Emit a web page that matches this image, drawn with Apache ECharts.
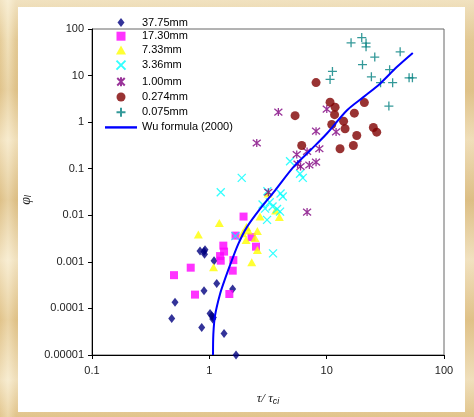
<!DOCTYPE html>
<html>
<head>
<meta charset="utf-8">
<script src="https://cdn.jsdelivr.net/npm/echarts@6/dist/echarts.min.js"></script>
<style>
html,body{margin:0;padding:0;}
body{width:474px;height:417px;position:relative;overflow:hidden;
background:
 linear-gradient(180deg, rgba(255,250,235,0.5) 0px, rgba(255,250,235,0) 40px, rgba(210,170,100,0.25) 90px, rgba(255,248,230,0.45) 140px, rgba(205,165,95,0.3) 200px, rgba(255,250,235,0.5) 260px, rgba(215,175,105,0.3) 320px, rgba(255,250,235,0.45) 380px, rgba(220,180,110,0.25) 417px),
 linear-gradient(90deg, rgba(200,160,90,0.2) 0px, rgba(255,250,235,0.3) 8px, rgba(200,160,90,0.25) 16px),
 #ECD7A8;}
#paper{position:absolute;left:18px;top:7px;width:447px;height:405px;background:#ffffff;}
#chart{position:absolute;left:0;top:0;width:474px;height:417px;}
</style>
</head>
<body>
<div id="paper"></div>
<div id="chart"></div>
<script>
// Data (x = tau/tau_ci, y = phi_l)
const s3775 = [[0.833,0.0017],[0.901,0.00166],[0.919,0.00183],[0.910,0.00146],[1.097,0.00106],[1.156,0.000345],[0.901,0.00024],[1.58,0.000261],[0.51,0.000135],[0.478,0.000061],[1.014,0.000078],[1.048,0.0000697],[1.082,0.000064],[1.069,0.000059],[0.861,0.000039],[1.335,0.000029],[1.689,0.00001]];
const s1730 = [[0.50,0.000518],[0.694,0.00075],[0.755,0.000198],[1.316,0.00223],[1.335,0.00166],[1.234,0.00133],[1.251,0.00106],[1.602,0.00109],[1.583,0.000647],[1.481,0.000204],[1.957,0.00938],[1.673,0.00366],[2.29,0.0034],[2.50,0.00212]];
const s733 = [[0.806,0.00385],[1.217,0.00687],[1.086,0.00077],[2.075,0.00557],[1.926,0.0041],[2.15,0.00469],[2.055,0.00293],[2.453,0.00324],[2.566,0.00457],[2.566,0.00179],[2.298,0.00098],[2.705,0.00938],[3.95,0.00915],[3.67,0.0126],[3.166,0.0293]];
const s336 = [[1.251,0.0312],[1.889,0.0637],[4.875,0.145],[5.93,0.0777],[6.26,0.0637],[3.123,0.0328],[4.046,0.0293],[4.224,0.0253],[2.842,0.017],[3.273,0.019],[2.985,0.0139],[3.458,0.0154],[3.777,0.0136],[4.006,0.012],[3.104,0.00796],[1.666,0.00357],[3.49,0.00152]];
const s100 = [[2.536,0.357],[3.875,1.641],[10.02,1.904],[8.12,0.64],[12.03,0.616],[5.56,0.202],[6.81,0.234],[8.66,0.268],[5.65,0.126],[5.99,0.1115],[7.12,0.12],[8.12,0.138],[3.184,0.0312],[6.81,0.0117]];
const s0274 = [[8.12,7.07],[5.38,1.38],[10.69,2.69],[11.8,2.10],[11.68,1.45],[20.96,2.63],[17.22,1.56],[13.94,1.05],[11.05,0.892],[14.35,0.721],[25.0,0.769],[26.7,0.61],[18.05,0.518],[6.13,0.315],[13.0,0.268],[16.89,0.315]];
const s0075 = [[16.14,50.5],[19.9,65.3],[21.66,49.8],[21.66,41.4],[42.3,32.3],[25.7,25.0],[20.2,17.15],[34.4,13.4],[11.2,12.3],[10.69,8.28],[24.05,9.38],[28.8,7.03],[36.5,7.03],[50.4,8.93],[53.8,8.93],[33.9,2.21]];
const wuLine = [[1.075,0.00001],[1.082,0.000028],[1.118,0.00007],[1.234,0.000204],[1.361,0.00043],[1.552,0.00106],[1.767,0.00243],[2.084,0.0055],[2.705,0.0137],[3.63,0.034],[5.2,0.108],[7.22,0.246],[10.0,0.563],[14.84,1.785],[20.55,3.45],[28.5,6.7],[39.6,15.2],[54.2,30.5]];
const seriesNames = ['37.75mm','17.30mm','7.33mm','3.36mm','1.00mm','0.274mm','0.075mm','Wu formula (2000)'];

const fmt = v => {
  const e = Math.round(Math.log10(v));
  return e < 0 ? '0.' + '0'.repeat(-e - 1) + '1' : String(Math.pow(10, e));
};
const FONT = '"Liberation Sans", Arial, sans-serif';
const pathDiamond = 'path://M3.5,0L7,4.5L3.5,9L0,4.5Z';
const pathRect = 'path://M0,0L10,0L10,10L0,10Z';
const pathTri = 'path://M5,0L10,9L0,9Z';
const pathX = 'path://M0,0L10,10M10,0L0,10';
const pathStar = 'path://M0,0L10,10M10,0L0,10M5,-1L5,11';
const pathPlus = 'path://M5,0L5,10M0,5L10,5';

const chart = echarts.init(document.getElementById('chart'), null, {renderer:'canvas'});
const strokeStyle = c => ({color:'none', borderColor:c, borderWidth:1.3});
chart.setOption({
  backgroundColor: 'transparent',
  animation: false,
  grid: {left:92, top:29, right:30, bottom:62, show:true, borderColor:'#666', borderWidth:1, backgroundColor:'transparent'},
  legend: {
    orient:'vertical', left:105, top:17, padding:0, itemWidth:32, itemHeight:9, itemGap:2.7,
    textStyle:{fontFamily:FONT, fontSize:11, color:'#000'},
    data: seriesNames.slice(0,7).concat([{name:seriesNames[7], icon:'path://M0,0L32,0L32,2.4L0,2.4Z', itemStyle:{color:'#0000FF'}}])
  },
  xAxis: {
    type:'log', logBase:10, min:0.1, max:100, interval:1,
    axisLine:{show:true, onZero:false, lineStyle:{color:'#000', width:1}},
    axisTick:{show:true, length:4, lineStyle:{color:'#000'}},
    splitLine:{show:false},
    axisLabel:{formatter:fmt, fontFamily:FONT, fontSize:11, color:'#222', margin:10},
    name:'{t|τ/ τ}{s|ci}', nameLocation:'middle', nameGap:36,
    nameTextStyle:{rich:{
      t:{fontFamily:'"Liberation Serif", serif', fontStyle:'italic', fontSize:13, color:'#222'},
      s:{fontFamily:FONT, fontStyle:'italic', fontSize:9, color:'#222', padding:[6,0,0,0]}
    }}
  },
  yAxis: {
    type:'log', logBase:10, min:0.00001, max:100, interval:1, splitNumber:7,
    axisLine:{show:true, onZero:false, lineStyle:{color:'#000', width:1}},
    axisTick:{show:true, length:4, lineStyle:{color:'#000'}},
    splitLine:{show:false},
    axisLabel:{formatter:fmt, fontFamily:FONT, fontSize:11, color:'#222', margin:8},
    name:'{p|φ}{s|l}', nameLocation:'middle', nameRotate:90, nameGap:51,
    nameTextStyle:{padding:[0,16,0,0], rich:{
      p:{fontFamily:'"Liberation Serif", serif', fontStyle:'italic', fontSize:14, color:'#222'},
      s:{fontFamily:FONT, fontStyle:'italic', fontSize:9, color:'#222', padding:[6,0,0,0]}
    }}
  },
  series: [
    {name:seriesNames[0], type:'scatter', data:s3775, symbol:pathDiamond, symbolSize:[7,9], itemStyle:{color:'#000080'}},
    {name:seriesNames[1], type:'scatter', data:s1730, symbol:pathRect, symbolSize:8, itemStyle:{color:'#FF00FF'}},
    {name:seriesNames[2], type:'scatter', data:s733, symbol:pathTri, symbolSize:[9,8], itemStyle:{color:'#FFFF00'}},
    {name:seriesNames[3], type:'scatter', data:s336, symbol:pathX, symbolSize:8, itemStyle:strokeStyle('#00FFFF')},
    {name:seriesNames[4], type:'scatter', data:s100, symbol:pathStar, symbolSize:8, itemStyle:strokeStyle('#800080')},
    {name:seriesNames[5], type:'scatter', data:s0274, symbol:'circle', symbolSize:9, itemStyle:{color:'#800000'}},
    {name:seriesNames[6], type:'scatter', data:s0075, symbol:pathPlus, symbolSize:9, itemStyle:strokeStyle('#008080')},
    {name:seriesNames[7], type:'line', data:wuLine, showSymbol:false, symbol:'none', smooth:0.3, z:5,
     lineStyle:{color:'#0000FF', width:2}, itemStyle:{color:'#0000FF'}}
  ]
});
</script>
</body>
</html>
